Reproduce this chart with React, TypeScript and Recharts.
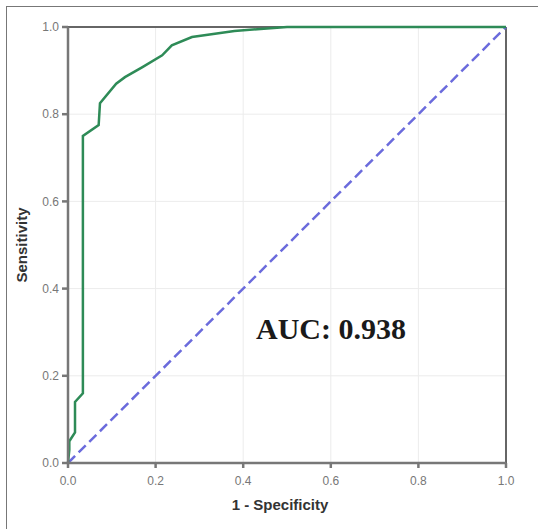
import React from 'react';
import {
  LineChart,
  Line,
  XAxis,
  YAxis,
  CartesianGrid,
  ReferenceLine,
  ReferenceDot,
} from 'recharts';

// ROC curve points (1 - specificity, sensitivity)
const fprValues = [0, 0.003, 0.003, 0.016, 0.016, 0.034, 0.034, 0.07, 0.073, 0.11, 0.13, 0.17, 0.215, 0.237, 0.283, 0.38, 0.5, 1.0];
const tprValues = [0, 0.03, 0.05, 0.07, 0.14, 0.16, 0.75, 0.775, 0.825, 0.87, 0.885, 0.908, 0.935, 0.958, 0.977, 0.991, 1.0, 1.0];

const chanceX = [0, 1];
const chanceY = [0, 1];

const axisTicks = [0, 0.2, 0.4, 0.6, 0.8, 1.0];
const aucLabel = 'AUC: 0.938';

const rocData = fprValues.map((x, i) => ({ x, y: tprValues[i] }));
const chanceData = chanceX.map((x, i) => ({ x, y: chanceY[i] }));

const tickStyle = { fill: '#777', fontSize: 12, fontFamily: 'Liberation Sans, Arial, sans-serif' };
const titleStyle = { fill: '#333', fontSize: 15, fontWeight: 700, fontFamily: 'Liberation Sans, Arial, sans-serif' };

const App: React.FC = () => {
  return (
    <div style={{ position: 'absolute', left: 0, top: 0, width: 538, height: 529, background: '#fff' }}>
      <div
        style={{
          position: 'absolute',
          left: 6,
          top: 6,
          width: 532,
          height: 523,
          borderTop: '1.5px solid #777',
          borderLeft: '1.5px solid #777',
        }}
      />
      <LineChart
        width={538}
        height={529}
        margin={{ top: 27, right: 32, left: 12, bottom: 10 }}
        style={{ position: 'absolute', left: 0, top: 0 }}
      >
        <CartesianGrid stroke="#ececec" strokeWidth={1} />
        <XAxis
          type="number"
          dataKey="x"
          domain={[0, 1]}
          ticks={axisTicks}
          tickFormatter={(v: number) => v.toFixed(1)}
          tick={tickStyle}
          tickSize={5}
          tickMargin={8}
          height={56}
          stroke="#777"
          strokeWidth={2.5}
          allowDuplicatedCategory={false}
          label={{
            value: '1 - Specificity',
            position: 'insideBottom',
            offset: 9,
            dx: -7,
            style: titleStyle,
          }}
        />
        <YAxis
          type="number"
          dataKey="y"
          domain={[0, 1]}
          ticks={axisTicks}
          tickFormatter={(v: number) => v.toFixed(1)}
          tick={tickStyle}
          tickSize={6}
          tickMargin={3}
          width={56}
          stroke="#777"
          strokeWidth={2.5}
          label={{
            value: 'Sensitivity',
            angle: -90,
            position: 'insideLeft',
            offset: 10,
            style: { ...titleStyle, textAnchor: 'middle' },
          }}
        />
        <ReferenceLine y={1} stroke="#666" strokeWidth={2} />
        <ReferenceLine x={1} stroke="#666" strokeWidth={2} />
        <Line
          data={chanceData}
          dataKey="y"
          type="linear"
          stroke="#6b6bdc"
          strokeWidth={2.5}
          strokeDasharray="10 5"
          dot={false}
          isAnimationActive={false}
        />
        <Line
          data={rocData}
          dataKey="y"
          type="linear"
          stroke="#2e8b57"
          strokeWidth={2.5}
          dot={false}
          isAnimationActive={false}
        />
        <ReferenceDot
          x={0.429}
          y={0.309}
          r={0.1}
          fill="none"
          stroke="none"
          label={{
            value: aucLabel,
            position: 'right',
            offset: 0,
            style: { fill: '#1a1a1a', fontSize: 30, fontWeight: 700, fontFamily: 'Liberation Serif, Times New Roman, serif' },
          }}
        />
      </LineChart>
    </div>
  );
};

export default App;
